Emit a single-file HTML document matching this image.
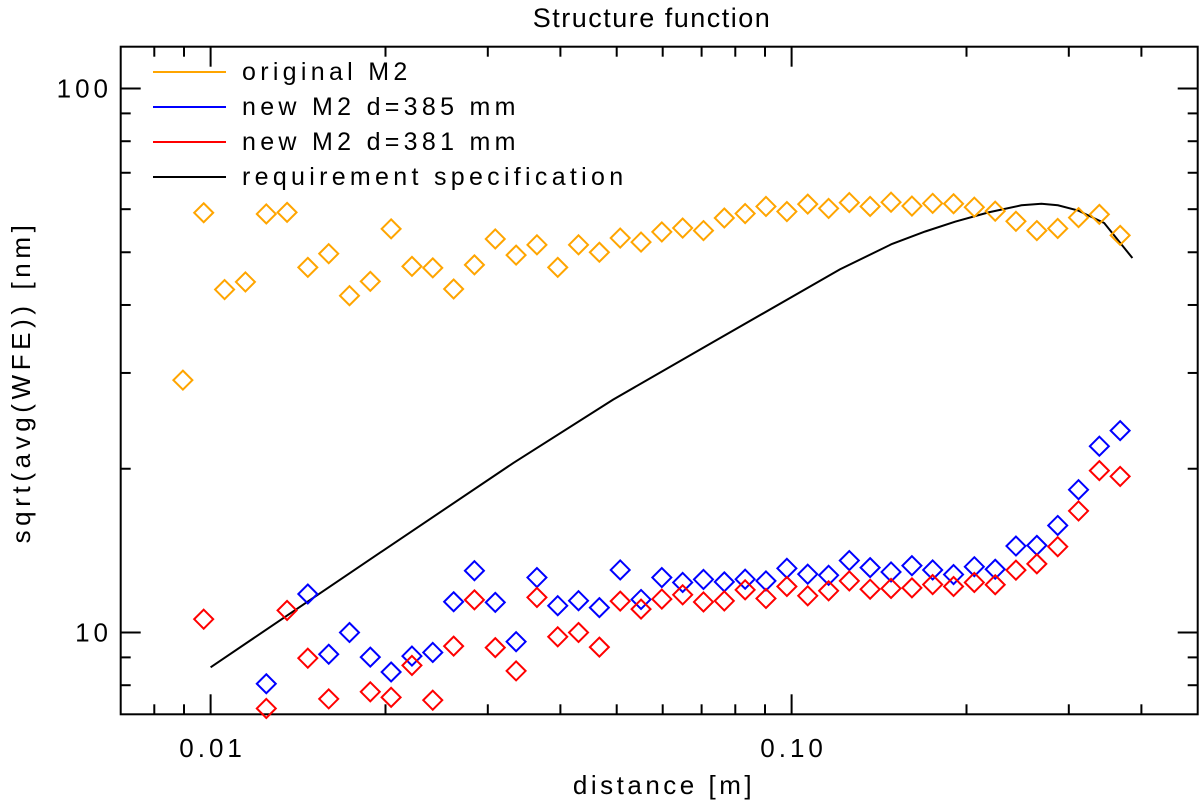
<!DOCTYPE html>
<html><head><meta charset="utf-8">
<style>
html,body{margin:0;padding:0;background:#fff;}
svg{display:block;font-family:"Liberation Sans",sans-serif;}
</style></head>
<body>
<svg id="chart" width="1200" height="806" viewBox="0 0 1200 806" xmlns="http://www.w3.org/2000/svg">
<text x="652" y="27" font-size="27" letter-spacing="1.5" text-anchor="middle" fill="#000">Structure function</text>
<text x="664" y="794" font-size="26" letter-spacing="3.5" text-anchor="middle" fill="#000">distance [m]</text>
<text transform="translate(30,382) rotate(-90)" font-size="26" letter-spacing="4.6" text-anchor="middle" fill="#000">sqrt(avg(WFE)) [nm]</text>
<g id="axes"></g>
<g id="marks"></g>
<g id="legend"></g>
</svg>
<script>
const distances=[0.00896,0.00973,0.01057,0.01148,0.01247,0.01354,0.01470,0.01597,0.01734,0.01883,0.02045,0.02221,0.02412,0.02620,0.02845,0.03090,0.03356,0.03645,0.03958,0.04298,0.04668,0.05070,0.05506,0.05979,0.06494,0.07052,0.07659,0.08318,0.09034,0.09815,0.1066,0.1158,0.1257,0.1365,0.1483,0.1611,0.1749,0.1900,0.2063,0.2241,0.2433,0.2643,0.2871,0.3118,0.3386,0.3677];
const originalM2=[29.1,59.1,42.7,44.1,58.8,59.2,46.9,49.7,41.6,44.2,55.2,47.1,46.8,42.8,47.4,52.9,49.4,51.6,46.9,51.6,50.0,53.1,52.2,54.5,55.4,54.8,57.8,58.9,60.7,59.4,61.3,60.2,61.7,60.7,61.8,60.8,61.5,61.4,60.5,59.5,57.0,54.8,55.3,57.9,58.7,53.7];
const newM2d385=[null,null,null,null,8.05,null,11.77,9.12,10.0,9.01,8.46,9.05,9.19,11.39,12.99,11.36,9.62,12.62,11.2,11.44,11.11,13.03,11.5,12.62,12.36,12.52,12.39,12.53,12.44,13.12,12.8,12.74,13.56,13.16,12.92,13.27,13.03,12.78,13.21,13.07,14.42,14.46,15.73,18.3,22.0,23.5];
const newM2d381=[null,10.58,null,null,7.25,10.98,8.97,7.55,null,7.78,7.6,8.7,7.51,9.44,11.48,9.38,8.5,11.6,9.82,10.0,9.4,11.42,11.04,11.52,11.73,11.38,11.43,11.98,11.55,12.15,11.68,11.93,12.44,12.01,12.05,12.08,12.25,12.15,12.36,12.24,13.02,13.37,14.38,16.73,19.84,19.36];
const reqDist=[0.01,0.01957,0.0332,0.0493,0.0733,0.1211,0.1489,0.1698,0.1912,0.2182,0.2486,0.2691,0.2873,0.3109,0.3452,0.386];
const reqVal=[8.63,14.02,20.5,26.8,34.2,46.5,51.8,54.6,56.9,59.2,61.0,61.4,61.0,59.7,56.6,48.8];
const xTickLabels=["0.01","0.10"];
const yTickLabels=["10","100"];
const legendLabels=["original M2","new M2 d=385 mm","new M2 d=381 mm","requirement specification"];

const NS="http://www.w3.org/2000/svg";
const L=120.7,R=1197.7,T=46.7,B=714.3;
function xs(d){return 210.6+581*(Math.log10(d)+2);}
function ys(v){return 632.5-544*(Math.log10(v)-1);}
function mk(tag,attrs,parent){const e=document.createElementNS(NS,tag);for(const k in attrs)e.setAttribute(k,attrs[k]);parent.appendChild(e);return e;}
const axes=document.getElementById('axes'),marks=document.getElementById('marks'),legend=document.getElementById('legend');

const frame=mk('rect',{x:L,y:T,width:R-L,height:B-T,fill:'none',stroke:'#000','stroke-width':2},axes);



for(let e=-3;e<=-1;e++){for(let m=1;m<=9;m++){const d=m*Math.pow(10,e);const x=xs(d);if(x<L+1||x>R-1)continue;const len=(m===1)?20:10;
 const t1=mk('line',{x1:x,y1:B,x2:x,y2:B-len,stroke:'#000','stroke-width':2},axes);
 
 
 const t2=mk('line',{x1:x,y1:T,x2:x,y2:T+len,stroke:'#000','stroke-width':2},axes);
 
 }}
[0.01,0.1].forEach((d,i)=>{const t=mk('text',{x:xs(d)+2,y:757,'font-size':26,'letter-spacing':4,'text-anchor':'middle',fill:'#000'},axes);t.textContent=xTickLabels[i];
 
 });
for(let e=0;e<=2;e++){for(let m=1;m<=9;m++){const v=m*Math.pow(10,e);const y=ys(v);if(y<T+1||y>B-1)continue;const len=(m===1)?20:10;
 const t1=mk('line',{x1:L,y1:y,x2:L+len,y2:y,stroke:'#000','stroke-width':2},axes);
 
 
 const t2=mk('line',{x1:R,y1:y,x2:R-len,y2:y,stroke:'#000','stroke-width':2},axes);
 
 }}
[10,100].forEach((v,i)=>{const t=mk('text',{x:112,y:ys(v)+9,'font-size':26,'letter-spacing':4,'text-anchor':'end',fill:'#000'},axes);t.textContent=yTickLabels[i];
 
 });

let pts=reqDist.map((d,i)=>xs(d).toFixed(1)+','+ys(reqVal[i]).toFixed(1)).join(' ');
const req=mk('polyline',{points:pts,fill:'none',stroke:'#000','stroke-width':2},marks);



function diamonds(vals,color,name){vals.forEach((v,i)=>{if(v==null)return;const x=xs(distances[i]),y=ys(v),h=9.5;
 const p=mk('polygon',{points:`${x},${y-h} ${x+h},${y} ${x},${y+h} ${x-h},${y}`,fill:'none',stroke:color,'stroke-width':2},marks);
 
 });}
diamonds(originalM2,'#ffa500','point-original-m2');
diamonds(newM2d385,'#0000ff','point-new-m2-385');
diamonds(newM2d381,'#ff0000','point-new-m2-381');

const lc=['#ffa500','#0000ff','#ff0000','#000000'];
legendLabels.forEach((lab,i)=>{const y=72+35*i;
 const ln=mk('line',{x1:153,y1:y,x2:226,y2:y,stroke:lc[i],'stroke-width':2},legend);
 
 
 const t=mk('text',{x:242,y:y+8,'font-size':25,'letter-spacing':4.3,fill:'#000'},legend);t.textContent=lab;
 
 });
</script>
</body></html>
